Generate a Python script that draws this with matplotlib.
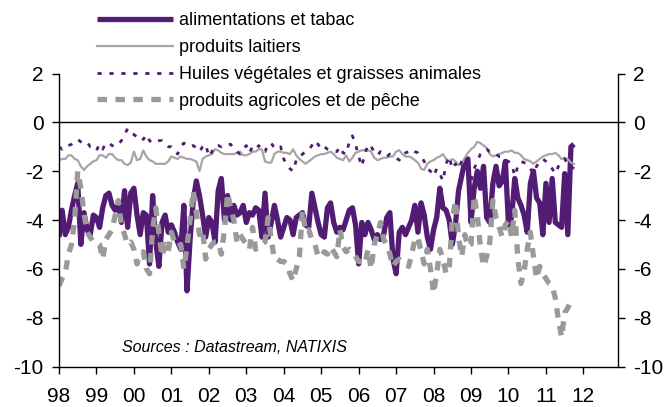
import matplotlib
matplotlib.use("Agg")
import matplotlib.pyplot as plt
import numpy as np

plt.rcParams["font.family"] = ["Liberation Sans", "DejaVu Sans"]
plt.rcParams["axes.unicode_minus"] = False

# --- Data: monthly, Jan 1998 -> Oct 2011 (y/y %) ---
alimentation = [
    -4.7, -3.6, -4.6, -4.3, -3.6, -3.0, -2.5, -5.0, -3.7, -4.4, -4.6, -3.8,
    -3.9, -4.3, -3.5, -3.0, -2.9, -3.4, -3.6, -3.3, -4.1, -2.8, -4.3, -2.9,
    -2.7, -3.8, -4.6, -3.7, -3.8, -5.8, -3.0, -4.9, -5.9, -4.1, -3.8, -4.5,
    -4.2, -4.5, -4.9, -5.2, -3.4, -6.9, -4.8, -3.2, -2.4, -3.0, -3.8, -4.7,
    -3.9, -4.1, -4.9, -2.8, -2.3, -4.0, -3.0, -4.0, -3.4, -3.8, -3.7, -3.4,
    -4.1, -3.7, -3.8, -3.5, -3.6, -4.7, -2.9, -4.7, -4.1, -3.4, -4.0, -4.7,
    -4.3, -3.9, -4.0, -4.6, -3.9, -3.8, -3.7, -4.2, -4.3, -2.9, -3.5, -4.1,
    -4.6, -4.7, -3.5, -3.3, -4.1, -4.5, -4.3, -4.4, -4.0, -3.6, -3.5, -4.2,
    -5.8, -4.1, -4.6, -4.1, -4.4, -4.8, -4.6, -4.8, -4.6, -3.9, -3.7, -5.6,
    -6.2, -4.5, -4.3, -4.6, -4.3, -4.0, -3.4, -4.5, -3.3, -3.8, -4.7, -5.2,
    -4.4, -3.9, -2.7, -3.5, -3.6, -4.0, -5.0, -4.2, -2.8, -2.2, -1.6, -1.5,
    -4.1, -2.7, -2.0, -2.7, -1.8, -3.9, -4.1, -2.5, -1.8, -2.6, -2.4, -1.6,
    -4.2, -3.9, -2.3, -3.1, -3.4, -3.8, -4.5, -2.5, -2.0, -3.1, -3.3, -4.6,
    -2.5, -4.1, -2.3, -4.1, -4.2, -4.3, -2.1, -4.6, -1.0, -0.9,
]
laitiers = [
    -1.55, -1.5, -1.5, -1.35, -1.35, -1.5, -1.55, -1.8, -1.95, -1.8, -1.7, -1.6,
    -1.55, -1.35, -1.35, -1.45, -1.3, -1.3, -1.45, -1.55, -1.55, -1.7, -1.75, -1.65,
    -1.2, -1.55, -1.5, -1.15, -1.4, -1.55, -1.6, -1.7, -1.7, -1.7, -1.7, -1.6,
    -1.4, -1.45, -1.5, -1.4, -1.45, -1.5, -1.5, -1.55, -1.6, -2.0, -1.5, -1.4,
    -1.35, -1.3, -1.1, -1.15, -1.25, -1.3, -1.3, -1.3, -1.3, -1.25, -1.2, -1.35,
    -1.35, -1.3, -1.2, -1.2, -1.1, -1.1, -1.6, -1.65, -1.65, -1.3, -1.2, -1.2,
    -1.25, -1.25, -1.3, -1.1, -1.35, -1.5, -1.6, -1.7, -1.6, -1.5, -1.4, -1.35,
    -1.3, -1.3, -1.25, -1.2, -1.3, -1.45, -1.5, -1.55, -1.35, -1.6, -1.45, -1.25,
    -1.2, -1.14, -1.14, -1.14, -1.2, -1.45, -1.55, -1.5, -1.45, -1.45, -1.4, -1.4,
    -1.2, -1.14, -1.3, -1.4, -1.4, -1.45, -1.55, -1.65, -1.9, -1.95, -1.7, -1.6,
    -1.55, -1.45, -1.4, -1.3, -1.5, -1.6, -1.5, -1.6, -1.75, -1.7, -1.45, -1.25,
    -1.1, -1.0, -0.8, -0.85, -0.95, -1.05, -1.3, -1.4, -1.35, -1.3, -1.25, -1.2,
    -1.2, -1.15, -1.25, -1.25, -1.35, -1.5, -1.55, -1.6, -1.7, -1.6, -1.5, -1.4,
    -1.35, -1.3, -1.3, -1.25, -1.35, -1.5, -1.45, -1.5, -1.65, -1.7,
]
huiles = [
    -1.0, -1.1, -0.95, -0.95, -0.9, -0.8, -0.7, -0.8, -0.85, -0.8, -1.0, -1.0,
    -1.15, -0.9, -1.1, -0.85, -0.85, -0.95, -1.0, -0.9, -0.75, -0.5, -0.26, -0.45,
    -0.5, -0.6, -0.55, -0.7, -0.5, -0.75, -0.85, -0.8, -0.75, -0.75, -0.9, -1.0,
    -1.0, -1.1, -1.3, -1.0, -0.85, -0.9, -1.0, -0.95, -1.05, -1.2, -1.0, -0.9,
    -1.4, -1.2, -0.95, -0.95, -1.0, -0.9, -0.9, -0.9, -1.1, -1.2, -1.3, -1.1,
    -0.95, -1.25, -1.0, -1.1, -0.95, -1.2, -1.2, -0.9, -0.85, -1.05, -1.1, -1.0,
    -1.5, -1.75, -1.9, -2.0, -1.55, -1.5, -1.3, -1.2, -1.15, -0.95, -0.75, -0.9,
    -1.1, -1.0, -1.1, -1.15, -1.2, -1.2, -1.0, -1.25, -1.3, -0.8, -0.55, -0.9,
    -1.4, -1.8, -1.3, -0.9, -1.0, -1.2, -1.35, -1.2, -1.25, -1.4, -1.3, -1.4,
    -1.45, -1.55, -1.3, -1.25, -1.2, -1.1, -1.2, -1.25, -1.4, -1.6, -1.9, -2.0,
    -2.2, -1.9, -2.1, -2.4, -1.7, -1.4, -1.9, -1.7, -1.9, -1.6, -1.4, -1.7,
    -2.4, -1.9, -1.6, -1.3, -1.14, -1.1, -1.2, -1.2, -1.3, -1.4, -1.4, -1.55,
    -1.6, -1.7, -2.2, -1.8, -1.6, -1.65, -1.7, -1.9, -2.1, -1.8, -1.6, -1.5,
    -1.6, -1.7, -1.9, -2.1, -1.8, -1.6, -1.5, -1.7, -1.8, -1.9,
]
agricoles = [
    -6.7, -6.4, -6.2, -5.4, -5.0, -4.0, -2.0, -2.7, -3.7, -4.5, -4.7, -4.9,
    -4.9, -5.0, -5.6, -4.8, -4.6, -4.4, -3.8, -3.2, -4.2, -4.6, -5.0, -4.9,
    -5.2, -5.8, -5.4, -5.3, -6.0, -6.2, -4.4, -3.5, -4.5, -5.5, -5.0, -5.3,
    -4.5, -4.9, -5.1, -5.0, -6.0, -5.1, -4.0, -2.8, -3.7, -4.6, -4.4, -5.6,
    -5.2, -5.0, -4.9, -4.9, -5.4, -4.4, -2.9, -3.5, -4.0, -4.9, -4.6, -4.8,
    -5.0, -5.2, -4.3, -5.2, -5.1, -5.0, -4.9, -3.9, -4.8, -5.6, -5.6, -5.7,
    -5.7, -5.8, -6.2, -6.5, -6.0, -5.5, -3.6, -4.5, -4.4, -4.8, -5.0, -5.5,
    -5.5, -5.3, -5.4, -5.1, -5.3, -5.5, -4.4, -5.1, -5.3, -5.2, -5.3, -5.5,
    -5.7, -5.7, -5.8, -5.2, -6.0, -5.0, -4.6, -4.1, -4.8, -5.0, -5.4, -5.9,
    -5.7, -5.6, -5.7, -5.8, -5.9, -5.4, -4.8, -4.7, -5.3, -5.8, -5.2, -6.0,
    -7.0, -6.2, -5.2, -5.6, -6.2, -6.0, -4.0, -3.2, -4.7, -5.5, -4.6, -5.1,
    -5.0, -3.0, -3.8, -5.1, -5.9, -5.5, -4.9, -3.2, -3.9, -4.3, -4.7, -4.2,
    -4.0, -4.7, -3.6, -5.6, -6.6, -6.1, -5.2, -4.5, -5.5, -6.4, -5.9, -6.2,
    -6.4, -6.6, -6.7, -7.2, -8.1, -8.8, -7.8, -7.6, -7.3, -7.3,
]
labels = ["alimentations et tabac", "produits laitiers",
          "Huiles végétales et graisses animales", "produits agricoles et de pêche"]
year_ticks = list(range(1998, 2013))
year_labels = [f"{y % 100:02d}" for y in year_ticks]

x = 1998 + np.arange(len(alimentation)) / 12.0

PURPLE = "#521C75"
GREY_LIGHT = "#A6A6A6"
GREY_DARK = "#9A9A9A"

fig = plt.figure(figsize=(6.68, 4.07), dpi=100)
ax = fig.add_axes([59 / 668, 1 - 366.5 / 407, (617.5 - 59) / 668, (366.5 - 73.5) / 407])

l1, = ax.plot(x, alimentation, color=PURPLE, lw=3.8, solid_capstyle="butt")
l2, = ax.plot(x, laitiers, color=GREY_LIGHT, lw=1.6)
l3, = ax.plot(x, huiles, color=PURPLE, lw=2.0, linestyle=(0, (1.5, 2.8)))
l4, = ax.plot(x, agricoles, color=GREY_DARK, lw=3.8, linestyle=(0, (1.8, 1.6)))

ax.axhline(0, color="black", lw=1.0, zorder=1)

ax.set_xlim(1998, 2012.91)
ax.set_ylim(-10, 2)
ax.set_yticks([2, 0, -2, -4, -6, -8, -10])
ax.set_xticks(year_ticks)
ax.set_xticklabels(year_labels)

ax.spines["top"].set_visible(False)
for s in ("left", "right", "bottom"):
    ax.spines[s].set_linewidth(1.0)

ax.tick_params(axis="y", which="both", direction="out", length=5, width=1,
               labelsize=15, pad=6, left=True, right=True,
               labelleft=True, labelright=True)
ax.tick_params(axis="x", direction="out", length=5, width=1, labelsize=15, pad=10)

leg = fig.legend([l1, l2, l3, l4], labels, loc="upper left",
                 bbox_to_anchor=(97 / 668, 1 - 12 / 407), frameon=False,
                 fontsize=13, handlelength=4.2, handletextpad=0.35,
                 labelspacing=0.55, borderpad=0, borderaxespad=0)

fig.text(122 / 668, 1 - 347 / 407, "Sources : Datastream, NATIXIS",
         fontsize=11.5, style="italic", ha="left", va="center")

fig.savefig("out.png", dpi=100)
